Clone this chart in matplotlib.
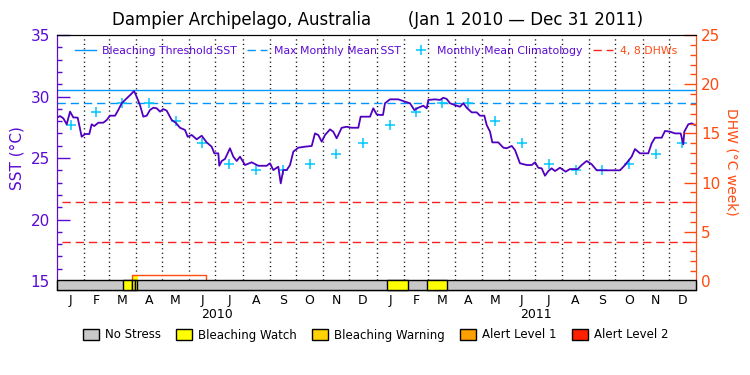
import numpy as np
import matplotlib
matplotlib.use("Agg")
import matplotlib.pyplot as plt
from matplotlib.patches import Rectangle, Patch
from matplotlib.lines import Line2D

# ---------------- data ----------------
# days since Jan 1 2010 and daily SST (deg C)
sst_day = [0, 3.4, 7.2, 11.1, 14.9, 18.6, 23.6, 28.2, 32.0, 36.9, 39.6, 42.6, 47.2, 52.9,
           56.8, 60.5, 66.3, 70.0, 73.9, 79.6, 84.5, 88.0, 91.0, 94.8, 98.6, 102.5, 106.2,
           110.0, 113.9, 117.7, 121.4, 125.3, 131.0, 135.6, 140.5, 146.2, 149.3, 153.9,
           159.6, 165.3, 171.0, 176.7, 179.7, 184.3, 185.4, 188.2, 191.9, 197.6, 201.4,
           205.3, 209.1, 214.8, 222.4, 230.0, 239.6, 243.3, 247.1, 252.8, 255.6, 258.5,
           262.4, 266.2, 270.0, 275.7, 283.3, 291.0, 294.7, 298.5, 302.4, 306.2, 311.9,
           315.6, 319.5, 325.2, 331.0, 336.7, 344.2, 346.9, 357.6, 361.3, 365.2, 369.0,
           372.4, 374.7, 380.4, 389.9, 397.6, 403.3, 408.2, 412.8, 418.5, 422.4, 424.2,
           431.8, 437.6, 441.3, 445.2, 449.0, 454.7, 460.4, 464.2, 468.0, 473.8, 479.5,
           483.2, 488.2, 490.9, 494.7, 497.3, 504.1, 509.9, 513.7, 519.5, 523.2, 528.9,
           536.6, 542.3, 546.1, 549.8, 553.7, 557.5, 561.3, 565.1, 568.9, 574.6, 581.1,
           586.0, 594.8, 599.4, 605.1, 610.8, 616.6, 643.2, 648.9, 656.5, 660.3, 666.0,
           675.5, 679.4, 683.2, 690.8, 694.6, 700.3, 706.0, 712.5, 715.5, 716.6, 721.2,
           725.0, 728.8]
sst_val = [28.28, 28.41, 28.23, 27.74, 28.77, 28.30, 28.28, 26.73, 26.95, 26.95, 27.74, 27.60,
           27.87, 27.87, 28.09, 28.44, 28.44, 28.90, 29.45, 29.85, 30.18, 30.45, 29.98, 29.30,
           28.36, 28.44, 28.90, 29.09, 29.04, 28.77, 28.98, 28.85, 28.09, 27.87, 27.46, 27.28,
           26.73, 26.87, 26.52, 26.81, 26.27, 25.92, 25.38, 25.38, 24.37, 24.76, 24.92, 25.79,
           25.11, 24.76, 25.11, 24.43, 24.65, 24.37, 24.37, 24.57, 24.02, 24.29, 22.94, 24.02,
           24.02, 24.43, 25.52, 25.84, 25.92, 25.98, 27.00, 26.87, 26.33, 26.87, 27.33, 27.14,
           26.60, 27.46, 27.54, 27.46, 27.46, 28.36, 28.36, 29.04, 28.55, 28.50, 28.50, 29.45,
           29.77, 29.77, 29.58, 29.45, 28.90, 29.09, 29.25, 29.04, 29.72, 29.77, 29.72, 29.90,
           29.80, 29.45, 29.30, 29.17, 29.45, 29.09, 28.71, 28.71, 28.44, 28.44, 27.68, 27.14,
           26.27, 26.27, 25.84, 25.79, 25.98, 25.65, 24.57, 24.43, 24.43, 24.65, 24.21, 24.16,
           23.56, 23.94, 24.16, 23.94, 24.21, 23.89, 24.10, 24.10, 24.43, 24.76, 24.49, 24.00,
           24.00, 24.43, 25.11, 25.73, 25.38, 25.38, 26.20, 26.65, 26.65, 27.20, 27.14, 27.00,
           27.00, 26.11, 27.14, 27.74, 27.82, 27.68]

climatology = [27.65, 28.70, 29.45, 29.50, 28.00, 26.20, 24.55, 24.00, 24.05, 24.55, 25.30, 26.20]
mmm_sst = 29.5
threshold_sst = 30.5
dhw_lines = [4, 8]

dhw_day = [0, 86.0, 86.0, 170.6, 170.6, 730]
dhw_val = [0, 0, 0.6, 0.6, 0, 0]
hotspot_day = [86.0, 92.9]
hotspot_val = [0.6, 0.6]

status_start = [75.7, 86.0, 89.4, 376.6, 422.4]
status_end = [86.0, 89.4, 91.7, 401.3, 445.9]
status_level = [1, 1, 1, 1, 1]

month_len = [31, 28, 31, 30, 31, 30, 31, 31, 30, 31, 30, 31]
month_letters = ["J", "F", "M", "A", "M", "J", "J", "A", "S", "O", "N", "D"]
years = ["2010", "2011"]
status_names = ["No Stress", "Bleaching Watch", "Bleaching Warning", "Alert Level 1", "Alert Level 2"]
status_colors = ["#c8c8c8", "#ffff00", "#ffd200", "#ffa000", "#ff2000"]

# ---------------- style ----------------
PURPLE = "#5a0ad2"
LINEPURPLE = "#5000c0"
ORANGE = "#ff4a10"
BLUE = "#0096ff"
CYAN = "#00c8ff"
RED = "#ff2020"

ml = np.array(month_len * len(years))
mstart = np.concatenate([[0], np.cumsum(ml)[:-1]])
mmid = mstart + ml / 2.0
total_days = ml.sum()

fig = plt.figure(figsize=(7.5, 3.75), dpi=100)
ax = fig.add_axes([57 / 750, 1 - 290 / 375, 639 / 750, 255 / 375])
ax.set_xlim(0, total_days)
ax.set_ylim(14.27, 35)
ax2 = ax.twinx()
ax2.set_ylim(-0.915, 25)
ax2.set_xlim(0, total_days)

# month separators
for b in mstart[1:]:
    ax.plot([b, b], [15.08, 35], color="k", lw=1.0, ls=(0, (0.8, 2.4)), zorder=1)

ax.axhline(threshold_sst, color=BLUE, lw=1.0, zorder=2)
ax.axhline(mmm_sst, color=BLUE, lw=1.0, ls=(0, (6, 3.5)), zorder=2)
ax.plot(mmid, climatology * len(years), ls="none", marker="+", ms=6.5, mew=1.1,
        color=CYAN, zorder=3)
ax.plot(sst_day, sst_val, color=LINEPURPLE, lw=1.3, zorder=5)

# DHW
for lv in dhw_lines:
    ax2.axhline(lv, xmin=0.008, xmax=0.995, color=RED, lw=1.0, ls=(0, (6, 3.5)), zorder=2)
ax2.fill_between(hotspot_day, 0, hotspot_val, color="#ffff00", lw=0, zorder=2)
ax2.plot(dhw_day, dhw_val, color=ORANGE, lw=1.0, zorder=3)

# status bar
tr = ax2.get_xaxis_transform()
bar_h = 10 / 255
ax2.add_patch(Rectangle((0, 0), total_days, bar_h, transform=tr, facecolor=status_colors[0],
                        edgecolor="k", lw=1.0, zorder=6, clip_on=False))
for s, e, lv in zip(status_start, status_end, status_level):
    ax2.add_patch(Rectangle((s, 0), e - s, bar_h, transform=tr, facecolor=status_colors[lv],
                            edgecolor="k", lw=1.0, zorder=7, clip_on=False))

# axes styling
ax.set_yticks(np.arange(15, 36, 5))
ax.set_yticks(np.arange(15, 36, 1), minor=True)
ax.tick_params(axis="y", which="major", direction="in", length=9.4, width=1,
               color=PURPLE, labelcolor=PURPLE, labelsize=11, pad=5)
ax.tick_params(axis="y", which="minor", direction="in", length=3.8, width=1, color=PURPLE)
ax.set_xticks(mmid)
ax.set_xticklabels(month_letters * len(years))
ax.tick_params(axis="x", which="both", length=0, labelsize=9, pad=3)

ax2.set_yticks(np.arange(0, 26, 5))
ax2.set_yticks(np.arange(0, 26, 1), minor=True)
ax2.tick_params(axis="y", which="major", direction="in", length=9, width=1,
                color=ORANGE, labelcolor=ORANGE, labelsize=11, pad=3.5)
ax2.tick_params(axis="y", which="minor", direction="in", length=4.5, width=1, color=ORANGE)

for a in (ax, ax2):
    a.spines["left"].set_color(PURPLE)
    a.spines["right"].set_color(ORANGE)
    a.spines["top"].set_color("k")
    a.spines["bottom"].set_color("k")

for i, y in enumerate(years):
    ax.text(total_days * (i + 0.5) / len(years), -0.098, y, transform=ax.get_xaxis_transform(),
            ha="center", va="center", fontsize=9)

fig.text(17.5 / 750, 1 - 158.5 / 375, "SST (°C)", rotation=90, color=PURPLE,
         ha="center", va="center", fontsize=11)
fig.text(731 / 750, 1 - 161.5 / 375, "DHW (°C week)", rotation=-90, color=ORANGE,
         ha="center", va="center", fontsize=10)
fig.text(0.504, 1 - 20 / 375, "Dampier Archipelago, Australia       (Jan 1 2010 — Dec 31 2011)",
         ha="center", va="center", fontsize=12)

# top legend
h = [Line2D([], [], color=BLUE, lw=1.0),
     Line2D([], [], color=BLUE, lw=1.0, ls=(0, (6, 3.5))),
     Line2D([], [], color=CYAN, ls="none", marker="+", ms=6.5, mew=1.1),
     Line2D([], [], color=RED, lw=1.0, ls=(0, (6, 3.5)))]
labs = ["Bleaching Threshold SST", "Max Monthly Mean SST", "Monthly Mean Climatology", "4, 8 DHWs"]
leg = ax2.legend(h, labs, loc="center", bbox_to_anchor=((376 - 57) / 639, 0.937), ncol=4,
                 frameon=False, fontsize=7.8, handlelength=1.9, handletextpad=0.6,
                 columnspacing=0.9, borderpad=0)
for t, c in zip(leg.get_texts(), [PURPLE, PURPLE, PURPLE, ORANGE]):
    t.set_color(c)

# bottom legend
ph = [Patch(facecolor=c, edgecolor="k", lw=1.0) for c in status_colors]
fig.legend(ph, status_names, loc="center", bbox_to_anchor=(0.501, 1 - 335 / 375), ncol=5,
           frameon=False, fontsize=8.5, handlelength=1.35, handleheight=0.95,
           handletextpad=0.5, columnspacing=1.3, borderpad=0)

fig.savefig("out.png", dpi=100)
